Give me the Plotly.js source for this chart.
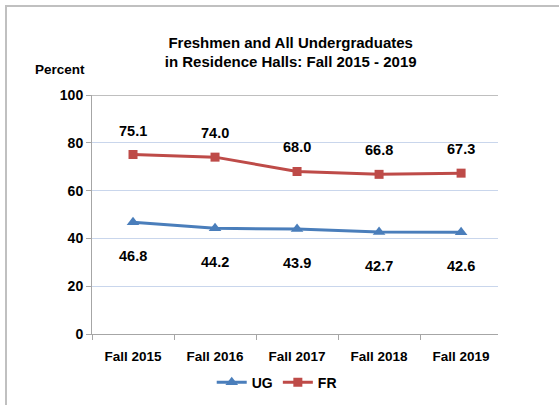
<!DOCTYPE html>
<html>
<head>
<meta charset="utf-8">
<script src="https://cdn.plot.ly/plotly-3.0.1.min.js"></script>
<style>
  html, body { margin: 0; padding: 0; background: #fff; }
  #frame { position: absolute; left: 5px; top: 5px; width: 560px; height: 410px;
           border-top: 2px solid #c0c0c0; border-left: 2px solid #c0c0c0; }
  #chart { position: absolute; left: 0; top: 0; width: 559px; height: 405px; }
</style>
</head>
<body>
<div id="frame"></div>
<div id="chart"></div>
<script>
const categories = ["Fall 2015", "Fall 2016", "Fall 2017", "Fall 2018", "Fall 2019"];
const ugValues = [46.8, 44.2, 43.9, 42.7, 42.6];
const frValues = [75.1, 74.0, 68.0, 66.8, 67.3];
const yTicks = [0, 20, 40, 60, 80, 100];

const FONT = "Liberation Sans, Arial, sans-serif";
const ugColor = "#4a7ebb";
const frColor = "#be4b48";

const traces = [
  {
    x: categories, y: ugValues, name: "UG", type: "scatter", mode: "lines+markers",
    line: {color: ugColor, width: 3},
    marker: {symbol: "triangle-up", size: 11, color: ugColor}
  },
  {
    x: categories, y: frValues, name: "FR", type: "scatter", mode: "lines+markers",
    line: {color: frColor, width: 3},
    marker: {symbol: "square", size: 9, color: frColor}
  }
];

const labelFont = {family: FONT, size: 14.5, color: "#000", weight: "bold"};
const annotations = [];
categories.forEach((c, i) => {
  annotations.push({x: c, y: frValues[i], xref: "x", yref: "y", text: frValues[i].toFixed(1),
    showarrow: false, yshift: 24, font: labelFont});
  annotations.push({x: c, y: ugValues[i], xref: "x", yref: "y", text: ugValues[i].toFixed(1),
    showarrow: false, yshift: -34, font: labelFont});
});
annotations.push({
  x: -0.079, y: 1.105, xref: "paper", yref: "paper", text: "Percent", showarrow: false,
  xanchor: "center", yanchor: "middle", font: {family: FONT, size: 13.5, color: "#000", weight: "bold"}
});

const layout = {
  width: 559, height: 405,
  margin: {l: 92, r: 61, t: 95, b: 71},
  paper_bgcolor: "rgba(0,0,0,0)",
  plot_bgcolor: "rgba(0,0,0,0)",
  font: {family: FONT, color: "#000"},
  title: {
    text: "Freshmen and All Undergraduates<br>in Residence Halls: Fall 2015 - 2019",
    font: {family: FONT, size: 15, color: "#000", weight: "bold"},
    x: 0.52, xanchor: "center", y: 0.882, yanchor: "bottom"
  },
  showlegend: true,
  legend: {
    orientation: "h", x: 0.455, xanchor: "center", yref: "container", y: 0.055, yanchor: "middle",
    font: {family: FONT, size: 14, color: "#000", weight: "bold"},
    itemwidth: 30, traceorder: "normal"
  },
  xaxis: {
    type: "category", showgrid: false, zeroline: false, automargin: false,
    showline: true, linecolor: "#a6a6a6", linewidth: 1,
    ticks: "outside", tickson: "boundaries", ticklen: 5, tickcolor: "#a6a6a6",
    ticklabelstandoff: 10,
    tickfont: {family: FONT, size: 13.5, color: "#000", weight: "bold"},
    range: [-0.5, 4.45]
  },
  yaxis: {
    range: [0, 100], tickvals: yTicks, ticktext: yTicks.map(String), automargin: false,
    showgrid: true, gridcolor: "#c9d6ec", gridwidth: 1, zeroline: false,
    showline: true, linecolor: "#a6a6a6", linewidth: 1,
    ticks: "outside", ticklen: 5, tickcolor: "#a6a6a6",
    tickfont: {family: FONT, size: 14, color: "#000", weight: "bold"}
  },
  shapes: [
    {type: "line", xref: "paper", yref: "y", x0: 0, x1: 1, y0: 100, y1: 100,
     line: {color: "#bfbfbf", width: 2}}
  ],
  annotations: annotations
};

Plotly.newPlot("chart", traces, layout, {displayModeBar: false, staticPlot: true});
</script>
</body>
</html>
